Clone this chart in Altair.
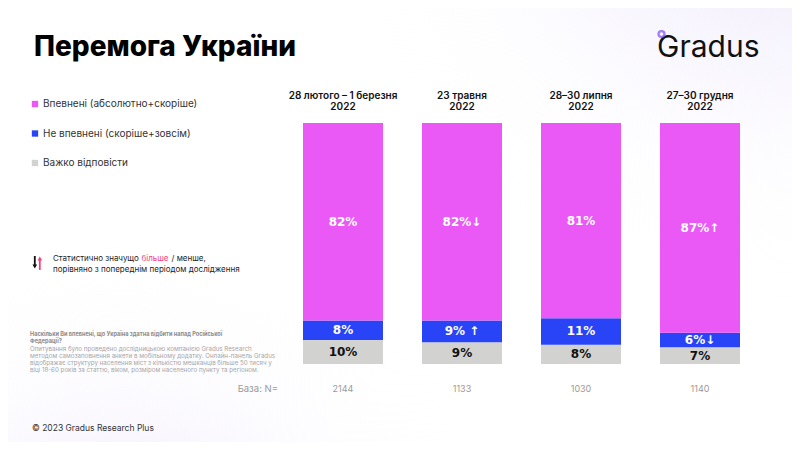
import altair as alt
import pandas as pd

# ---------------- data ----------------
waves = ["28 лютого – 1 березня\n2022", "23 травня\n2022", "28–30 липня\n2022", "27–30 грудня\n2022"]
categories = ["Впевнені (абсолютно+скоріше)", "Не впевнені (скоріше+зовсім)", "Важко відповісти"]
confident = [82, 82, 81, 87]
not_confident = [8, 9, 11, 6]
hard_to_say = [10, 9, 8, 7]
confident_sig = ["", "↓", "", "↑"]
not_confident_sig = ["", " ↑", "", "↓"]
hard_sig = ["", "", "", ""]
base_n = [2144, 1133, 1030, 1140]
colors = ["#EA59F6", "#2944F7", "#D2D2D0"]

rows = []
for i, w in enumerate(waves):
    for cat, vals, sig, order in [
        (categories[2], hard_to_say, hard_sig, 0),
        (categories[1], not_confident, not_confident_sig, 1),
        (categories[0], confident, confident_sig, 2),
    ]:
        rows.append({"wave": w, "cat": cat, "value": vals[i], "ord": order,
                     "label": f"{vals[i]}%{sig[i]}"})
df = pd.DataFrame(rows)
df_base = pd.DataFrame({"wave": waves, "n": [str(n) for n in base_n]})

# ---------------- layout helpers ----------------
OX, OY = 283.5, 123.0  # page position of plot origin
W, H = 476, 241


def px(x):
    return x - OX


def py(y):
    return y - OY


one = pd.DataFrame({"a": [0]})


def txt(text, x, y, size=10, color="#222", weight="normal", align="left",
        font="Inter", baseline="alphabetic"):
    return alt.Chart(one).mark_text(
        text=text, align=align, baseline=baseline, fontSize=size, color=color,
        fontWeight=weight, font=font
    ).encode(x=alt.value(px(x)), y=alt.value(py(y)))


xenc = alt.X("wave:N", sort=waves, axis=None,
             scale=alt.Scale(paddingInner=0.328, paddingOuter=0.164))
yscale = alt.Scale(domain=[0, 100])

# ---------------- background ----------------
def blob(cx, cy, r, color):
    return alt.Chart(one).mark_rect(
        fill=alt.Gradient(
            gradient="radial",
            stops=[alt.GradientStop(color=color, offset=0),
                   alt.GradientStop(color="rgba(255,255,255,0)", offset=1)],
            x1=cx, y1=cy, r1=0, x2=cx, y2=cy, r2=r,
        )
    ).encode(x=alt.value(-OX + 8), x2=alt.value(792 - OX),
             y=alt.value(-OY + 8), y2=alt.value(442 - OY))

bg1 = blob(1.0, 0.0, 0.6, "rgba(230,222,250,1)")
bg2 = blob(0.15, 1.0, 0.5, "rgba(236,229,250,1)")

# ---------------- bars ----------------
bars = alt.Chart(df).mark_bar(size=80).encode(
    x=xenc,
    y=alt.Y("value:Q", stack="zero", scale=yscale, axis=None),
    order=alt.Order("ord:Q"),
    color=alt.Color(
        "cat:N",
        scale=alt.Scale(domain=categories, range=colors),
        legend=alt.Legend(
            orient="none", legendX=px(30), legendY=py(99), title=None,
            symbolType="square", symbolSize=40, symbolStrokeWidth=0,
            labelFontSize=10, labelColor="#333", labelFont="Inter",
            labelOffset=3, rowPadding=19.5, labelLimit=400,
        ),
    ),
)

labels = alt.Chart(df).transform_stack(
    stack="value", groupby=["wave"], as_=["y0", "y1"], sort=[alt.SortField("ord")]
).transform_calculate(mid="(datum.y0 + datum.y1) / 2").mark_text(
    font="DejaVu Sans", fontSize=12, fontWeight="bold", baseline="middle"
).encode(
    x=xenc,
    y=alt.Y("mid:Q", scale=yscale, axis=None),
    text="label:N",
    color=alt.condition(alt.datum.cat == categories[2], alt.value("#111"), alt.value("#ffffff")),
)

headers = alt.Chart(df_base).mark_text(
    font="Inter", fontSize=10, fontWeight=600, color="#111", lineBreak="\n",
    baseline="alphabetic", lineHeight=11
).encode(x=xenc, y=alt.value(py(98.5)), text="wave:N")

bases = alt.Chart(df_base).mark_text(
    font="Inter", fontSize=9, color="#9a9a9a", baseline="alphabetic"
).encode(x=xenc, y=alt.value(py(392)), text="n:N")

# ---------------- annotations ----------------
title = txt("Перемога України", 34, 56, size=28, color="#000", weight=800)
logo = txt("Gradus", 657, 57, size=30, color="#111", weight=400)
logo_dot = alt.Chart(one).mark_point(
    shape="circle", size=34, filled=False, stroke="#7A4CF5", strokeWidth=2.4
).encode(x=alt.value(px(661.5)), y=alt.value(py(34)))

# significance icon: black down arrow + pink up arrow
dn_shaft = alt.Chart(one).mark_rule(color="#111", strokeWidth=1.8).encode(
    x=alt.value(px(34.8)), y=alt.value(py(256)), y2=alt.value(py(265)))
dn_head = alt.Chart(one).mark_point(shape="triangle-down", filled=True, color="#111",
                                    size=22, opacity=1).encode(
    x=alt.value(px(34.8)), y=alt.value(py(266.5)))
up_shaft = alt.Chart(one).mark_rule(color="#F2417F", strokeWidth=1.8).encode(
    x=alt.value(px(39.8)), y=alt.value(py(260)), y2=alt.value(py(270)))
up_head = alt.Chart(one).mark_point(shape="triangle-up", filled=True, color="#F2417F",
                                    size=22, opacity=1).encode(
    x=alt.value(px(39.8)), y=alt.value(py(258.5)))

sig1a = txt("Статистично значущо", 53, 261, size=8, color="#222")
sig1b = txt("більше", 141.5, 261, size=8, color="#F2417F")
sig1c = txt("/ менше,", 171.5, 261, size=8, color="#222")
sig2 = txt("порівняно з попереднім періодом дослідження", 53, 272, size=8, color="#222")

note_lines_bold = [
    "Наскільки Ви впевнені, що Україна здатна відбити напад Російської",
    "Федерації?",
]
note_lines = [
    "Опитування було проведено дослідницькою компанією Gradus Research",
    "методом самозаповнення анкети в мобільному додатку. Онлайн-панель Gradus",
    "відображає структуру населення міст з кількістю мешканців більше 50 тисяч у",
    "віці 18-60 років за статтю, віком, розміром населеного пункту та регіоном.",
]
notes = []
ny = [336, 343]
for t, y in zip(note_lines_bold, ny):
    notes.append(txt(t, 30, y, size=5.6, color="#8c8c8c", weight="bold"))
for k, t in enumerate(note_lines):
    notes.append(txt(t, 30, 350.5 + 7.2 * k, size=6.2, color="#a6a6a6"))

base_lbl = txt("База: N=", 278, 392, size=9.5, color="#9a9a9a", align="right")
copy = txt("© 2023 Gradus Research Plus", 32, 431, size=8.5, color="#333")

chart = alt.layer(
    bg1, bg2, bars, labels, headers, bases, title, logo, logo_dot,
    dn_shaft, dn_head, up_shaft, up_head,
    sig1a, sig1b, sig1c, sig2, *notes, base_lbl, copy
).properties(
    width=W, height=H,
    autosize=alt.AutoSizeParams(type="none"),
    padding={"left": OX - 8, "top": OY - 8, "right": 792 - OX - W, "bottom": 442 - OY - H},
    background="white",
).configure_view(stroke="transparent")

chart.save("out.html", embed_options={"renderer": "svg", "actions": False})
